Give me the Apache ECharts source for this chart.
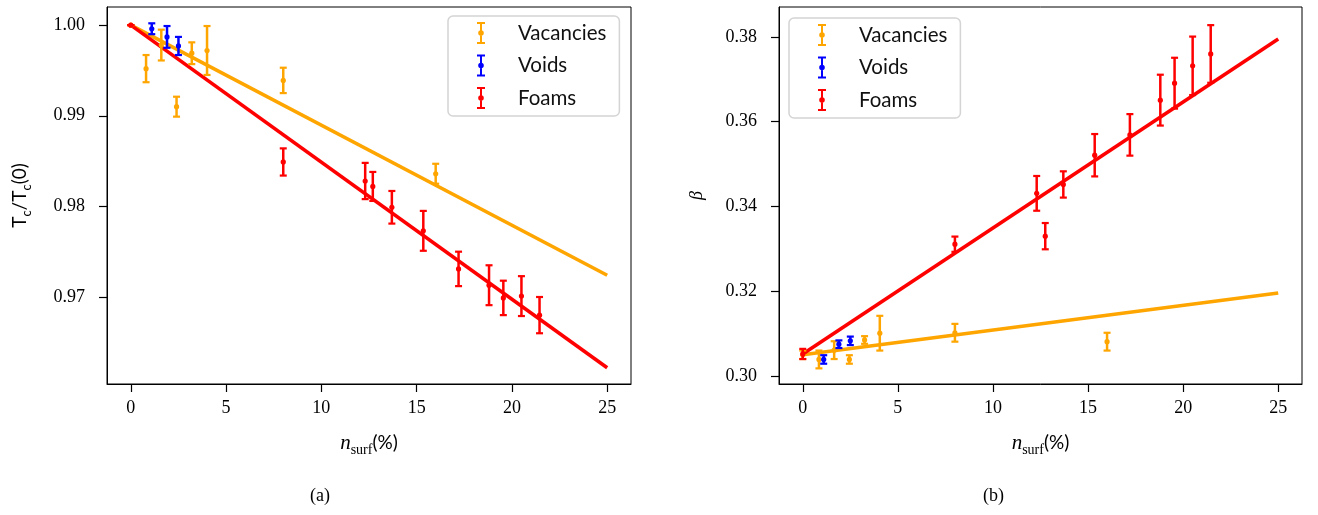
<!DOCTYPE html>
<html>
<head>
<meta charset="utf-8">
<script src="https://cdn.jsdelivr.net/npm/echarts@6/dist/echarts.min.js"></script>
<style>
html,body{margin:0;padding:0;background:#fff;}
#chart{width:1318px;height:515px;}
</style>
</head>
<body>
<div id="chart"></div>
<script>
// ---------- DATA ----------
// Panel (a): Tc/Tc(0) vs n_surf (%)
const vacX_a  = [0, 0.8, 1.6, 2.4, 3.2, 4.0, 8.0, 16.0];
const vacY_a  = [1.0, 0.9952, 0.9978, 0.9910, 0.9969, 0.9972, 0.9939, 0.9836];
const vacE_a  = [0, 0.0015, 0.0017, 0.0011, 0.0012, 0.0027, 0.0014, 0.0011];
const voidX_a = [1.1, 1.9, 2.5];
const voidY_a = [0.9996, 0.9987, 0.9977];
const voidE_a = [0.0006, 0.0012, 0.0010];
const foamX_a = [0, 8.0, 12.3, 12.7, 13.7, 15.35, 17.2, 18.8, 19.55, 20.5, 21.45];
const foamY_a = [1.0, 0.9849, 0.9828, 0.9822, 0.9799, 0.9773, 0.9731, 0.9713, 0.9699, 0.9701, 0.9680];
const foamE_a = [0, 0.0015, 0.0020, 0.0016, 0.0018, 0.0022, 0.0019, 0.0022, 0.0019, 0.0022, 0.0020];
const fitX    = [0, 25];
const vacFit_a  = [1.0, 0.9724];
const foamFit_a = [1.0, 0.9622];

// Panel (b): beta vs n_surf (%)
const vacX_b  = [0, 0.85, 1.65, 2.45, 3.25, 4.05, 8.0, 16.0];
const vacY_b  = [0.3050, 0.3039, 0.3061, 0.3039, 0.3085, 0.3101, 0.3102, 0.3081];
const vacE_b  = [0.0010, 0.0021, 0.0021, 0.0010, 0.0009, 0.0041, 0.0021, 0.0021];
const voidX_b = [1.1, 1.9, 2.5];
const voidY_b = [0.3039, 0.3075, 0.3083];
const voidE_b = [0.0010, 0.0009, 0.0010];
const foamX_b = [0, 8.0, 12.3, 12.75, 13.7, 15.35, 17.2, 18.8, 19.55, 20.5, 21.45];
const foamY_b = [0.3052, 0.3311, 0.3431, 0.3330, 0.3452, 0.3521, 0.3569, 0.3651, 0.3691, 0.3732, 0.3760];
const foamE_b = [0.0012, 0.0018, 0.0041, 0.0031, 0.0031, 0.0050, 0.0049, 0.0060, 0.0060, 0.0069, 0.0068];
const vacFit_b  = [0.3050, 0.3196];
const foamFit_b = [0.3052, 0.3795];

const xTicks   = [0, 5, 10, 15, 20, 25];
const yTicks_a = [0.97, 0.98, 0.99, 1.00];
const yTicks_b = [0.30, 0.32, 0.34, 0.36, 0.38];
const seriesNames = ['Vacancies', 'Voids', 'Foams'];

// ---------- STYLE ----------
const C_VAC = '#FFA500', C_VOID = '#0000FF', C_FOAM = '#FF0000';
const SERIF = '"Liberation Serif", "DejaVu Serif", serif';
const SANS = 'Lato, "DejaVu Sans", sans-serif';

function zip3(xs, ys, es) { return xs.map((x, i) => [x, ys[i], es[i]]); }
function zip2(xs, ys) { return xs.map((x, i) => [x, ys[i]]); }

function errRender(params, api) {
  const x = api.value(0), y = api.value(1), e = api.value(2);
  const p = api.coord([x, y]);
  const hi = api.coord([x, y + e]);
  const lo = api.coord([x, y - e]);
  const color = api.visual('color');
  const cw = 3.5;
  return {
    type: 'group',
    children: [
      { type: 'line', shape: { x1: p[0], y1: hi[1], x2: p[0], y2: lo[1] }, style: { stroke: color, lineWidth: 2.5 } },
      { type: 'line', shape: { x1: p[0] - cw, y1: hi[1], x2: p[0] + cw, y2: hi[1] }, style: { stroke: color, lineWidth: 2.2 } },
      { type: 'line', shape: { x1: p[0] - cw, y1: lo[1], x2: p[0] + cw, y2: lo[1] }, style: { stroke: color, lineWidth: 2.2 } },
      { type: 'circle', shape: { cx: p[0], cy: p[1], r: 2.6 }, style: { fill: color } }
    ]
  };
}

function errSeries(name, color, data, idx) {
  return {
    name, type: 'custom', xAxisIndex: idx, yAxisIndex: idx,
    itemStyle: { color }, renderItem: errRender,
    encode: { x: 0, y: 1 }, data, z: 5
  };
}
function fitSeries(name, color, data, idx) {
  return {
    name, type: 'line', xAxisIndex: idx, yAxisIndex: idx, data,
    symbol: 'none', lineStyle: { color, width: 3.6 }, itemStyle: { color },
    z: 3, silent: true, animation: false
  };
}

const ICON = 'path://M0,0H8V2H5V20H8V22H0V20H3V2H0Z M4,8.2A2.8,2.8 0 1 1 4,13.8A2.8,2.8 0 1 1 4,8.2Z';

function makeXAxis(idx) {
  return {
    type: 'value', gridIndex: idx, min: -1.25, max: 26.25,
    axisLine: { show: true, onZero: false, lineStyle: { color: '#000', width: 1 } },
    axisTick: { show: true, length: 8, customValues: xTicks, lineStyle: { color: '#000', width: 1.2 } },
    axisLabel: { customValues: xTicks, margin: 15, fontFamily: SERIF, fontSize: 18, color: '#000' },
    splitLine: { show: false },
    name: '{n|n}{s|surf}{p|(%)}', nameLocation: 'middle', nameGap: 47,
    nameTextStyle: {
      rich: {
        n: { fontFamily: SERIF, fontStyle: 'italic', fontSize: 21, color: '#000', lineHeight: 24, verticalAlign: 'middle' },
        s: { fontFamily: SERIF, fontSize: 14, color: '#000', lineHeight: 14, verticalAlign: 'bottom', padding: [0, 0, -2, 0] },
        p: { fontFamily: SANS, fontSize: 19, color: '#000', lineHeight: 24, verticalAlign: 'middle' }
      }
    }
  };
}

function makeYAxis(idx, min, max, ticks, name, nameGap, rich) {
  return {
    type: 'value', gridIndex: idx, min, max,
    axisLine: { show: true, onZero: false, lineStyle: { color: '#000', width: 1 } },
    axisTick: { show: true, length: 8, customValues: ticks, lineStyle: { color: '#000', width: 1.2 } },
    axisLabel: { customValues: ticks, margin: 22, fontFamily: SERIF, fontSize: 18, color: '#000',
      formatter: v => v.toFixed(2) },
    splitLine: { show: false },
    name, nameLocation: 'middle', nameGap, nameRotate: 90,
    nameTextStyle: { rich }
  };
}

function makeLegend(left, top) {
  return {
    show: true, orient: 'vertical', left, top,
    data: seriesNames.map(n => ({ name: n, icon: ICON })),
    itemWidth: 8, itemHeight: 22, itemGap: 10.5,
    padding: [6, 13, 7, 29],
    borderColor: '#d4d4d4', borderWidth: 1.5, borderRadius: 5,
    backgroundColor: '#fff',
    textStyle: { fontFamily: SANS, fontSize: 20.5, color: '#111', padding: [0, 0, 0, 28] },
    selectedMode: false
  };
}

const option = {
  animation: false,
  backgroundColor: '#fff',
  grid: [
    { left: 107, top: 7, width: 524, height: 377, show: true, borderColor: '#000', borderWidth: 1, backgroundColor: 'transparent' },
    { left: 779, top: 7, width: 523, height: 377, show: true, borderColor: '#000', borderWidth: 1, backgroundColor: 'transparent' }
  ],
  xAxis: [makeXAxis(0), makeXAxis(1)],
  yAxis: [
    makeYAxis(0, 0.9604, 1.0020, yTicks_a, '{t|T}{c|c}{t|/T}{c|c}{t|(0)}', 75, {
      t: { fontFamily: SANS, fontSize: 19, color: '#000', lineHeight: 24, verticalAlign: 'middle' },
      c: { fontFamily: SANS, fontSize: 13, color: '#000', lineHeight: 13, verticalAlign: 'bottom', padding: [0, 0, -1, 0] }
    }),
    makeYAxis(1, 0.29811, 0.38708, yTicks_b, '{b|β}', 73, {
      b: { fontFamily: SERIF, fontStyle: 'italic', fontSize: 18, color: '#000' }
    })
  ],
  legend: [makeLegend(448, 16), makeLegend(789, 18)],
  series: [
    fitSeries('Vacancies fit (a)', C_VAC, zip2(fitX, vacFit_a), 0),
    fitSeries('Foams fit (a)', C_FOAM, zip2(fitX, foamFit_a), 0),
    errSeries('Vacancies', C_VAC, zip3(vacX_a, vacY_a, vacE_a), 0),
    errSeries('Voids', C_VOID, zip3(voidX_a, voidY_a, voidE_a), 0),
    errSeries('Foams', C_FOAM, zip3(foamX_a, foamY_a, foamE_a), 0),
    fitSeries('Vacancies fit (b)', C_VAC, zip2(fitX, vacFit_b), 1),
    fitSeries('Foams fit (b)', C_FOAM, zip2(fitX, foamFit_b), 1),
    errSeries('Vacancies', C_VAC, zip3(vacX_b, vacY_b, vacE_b), 1),
    errSeries('Voids', C_VOID, zip3(voidX_b, voidY_b, voidE_b), 1),
    errSeries('Foams', C_FOAM, zip3(foamX_b, foamY_b, foamE_b), 1)
  ],
  graphic: [
    { type: 'text', left: 310, top: 487, style: { text: '(a)', font: '18px ' + SERIF, fill: '#000' } },
    { type: 'text', left: 983, top: 487, style: { text: '(b)', font: '18px ' + SERIF, fill: '#000' } }
  ]
};

const chart = echarts.init(document.getElementById('chart'), null, { renderer: 'canvas' });
chart.setOption(option);
</script>
</body>
</html>
